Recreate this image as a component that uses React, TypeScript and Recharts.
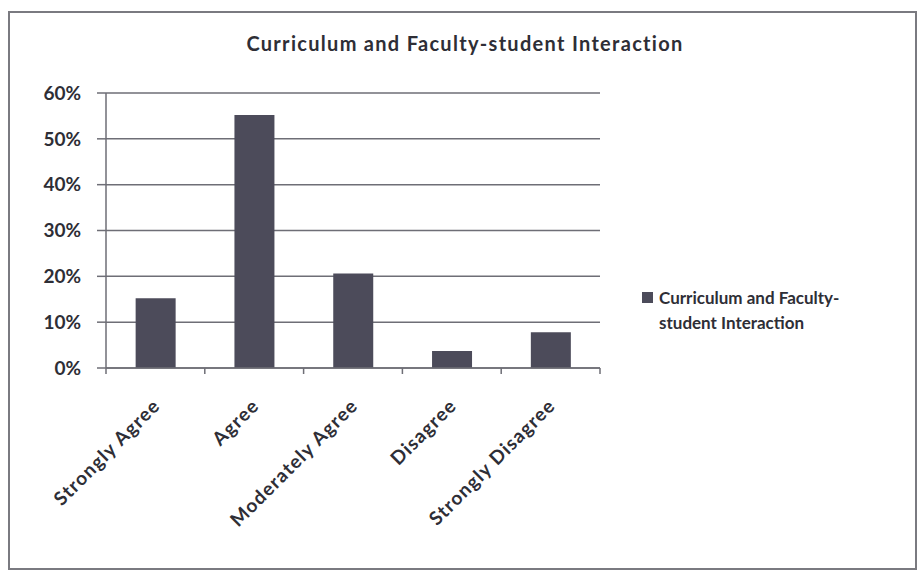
import { BarChart, Bar, XAxis, YAxis, CartesianGrid, Legend } from "recharts"

const categories = ["Strongly Agree", "Agree", "Moderately Agree", "Disagree", "Strongly Disagree"]
const shares = [15.2, 55.2, 20.6, 3.7, 7.8]
const yTicks = [0, 10, 20, 30, 40, 50, 60]
const seriesName = "Curriculum and Faculty-student Interaction"

const data = categories.map((c, i) => ({ category: c, value: shares[i] }))

const FONT = "Lato, 'Open Sans', sans-serif"
const TEXT = "#2e2e36"
const BAR = "#4c4b5a"
const LINE = "#6e6e76"

// category labels at -45deg, plus Excel-style tick marks between categories
function RotatedTick(props: any) {
  const { x, y, payload, index, visibleTicksCount } = props
  const half = payload.offset || 0
  const last = index === visibleTicksCount - 1
  return (
    <g>
      <line x1={x - half} x2={x - half} y1={y} y2={y + 6} stroke={LINE} strokeWidth={1.5} />
      {last && <line x1={x + half} x2={x + half} y1={y} y2={y + 6} stroke={LINE} strokeWidth={1.5} />}
      <g transform={`translate(${x + 6},${y + 39})`}>
        <text
          textAnchor="end"
          transform="rotate(-45)"
          fontFamily={FONT}
          fontWeight={700}
          fontSize={19}
          letterSpacing={1.2}
          fill={TEXT}
        >
          {payload.value}
        </text>
      </g>
    </g>
  )
}

function LegendBox(props: any) {
  const item = props.payload?.[0]
  return (
    <div style={{ display: "flex", alignItems: "flex-start", fontFamily: FONT, fontWeight: 700, fontSize: 17, color: TEXT }}>
      <span style={{ width: 11, height: 11, background: BAR, marginTop: 7, marginRight: 6, flex: "none" }} />
      <span style={{ width: 190, lineHeight: "25px" }}>{item ? item.value : seriesName}</span>
    </div>
  )
}

export default function App() {
  return (
    <div style={{ position: "absolute", left: 0, top: 0, width: 917, height: 571, background: "#fff" }}>
      <div
        style={{
          position: "absolute",
          left: 8,
          top: 11,
          width: 905,
          height: 555,
          border: "2px solid #7a7a80",
        }}
      />
      <div
        style={{
          position: "absolute",
          left: 0,
          width: 930,
          top: 31,
          textAlign: "center",
          fontFamily: FONT,
          fontWeight: 700,
          fontSize: 20,
          letterSpacing: 1.3,
          color: TEXT,
        }}
      >
        {seriesName}
      </div>
      <BarChart
        width={917}
        height={571}
        data={data}
        margin={{ top: 93, right: 317, left: 0, bottom: 83 }}
        barCategoryGap="30%"
        style={{ position: "absolute", left: 0, top: 0 }}
      >
        <CartesianGrid vertical={false} stroke={LINE} strokeWidth={1.5} />
        <XAxis
          dataKey="category"
          height={120}
          tickLine={false}
          tickSize={0}
          tickMargin={0}
          interval={0}
          axisLine={{ stroke: LINE, strokeWidth: 1.5 }}
          tick={<RotatedTick />}
        />
        <YAxis
          width={106}
          domain={[0, 60]}
          ticks={yTicks}
          tickFormatter={(v: number) => `${v}%`}
          tickSize={9}
          tickMargin={16}
          interval={0}
          axisLine={{ stroke: LINE, strokeWidth: 1.5 }}
          tickLine={{ stroke: LINE, strokeWidth: 1.5 }}
          tick={{ fontFamily: FONT, fontWeight: 700, fontSize: 19, fill: TEXT }}
        />
        <Legend
          layout="vertical"
          align="center"
          verticalAlign="middle"
          content={<LegendBox />}
          wrapperStyle={{ left: 642, top: 285, width: 260 }}
        />
        <Bar dataKey="value" name={seriesName} fill={BAR} isAnimationActive={false} />
      </BarChart>
    </div>
  )
}
